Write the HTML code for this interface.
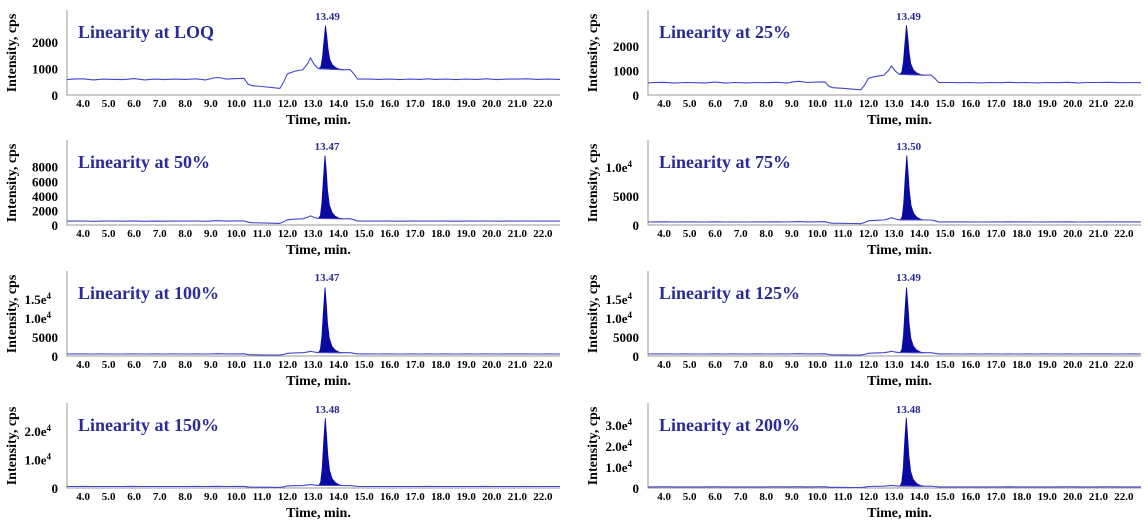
<!DOCTYPE html>
<html><head><meta charset="utf-8"><style>
html,body{margin:0;padding:0;background:#fff}
svg{display:block}
text{font-family:"Liberation Serif",serif;font-weight:bold}
</style></head><body>
<svg id="c" width="1148" height="527" xmlns="http://www.w3.org/2000/svg"></svg>
<script>
const titles=["Linearity at LOQ","Linearity at 25%","Linearity at 50%","Linearity at 75%","Linearity at 100%","Linearity at 125%","Linearity at 150%","Linearity at 200%"];
const peakRT=[13.49,13.49,13.47,13.50,13.47,13.49,13.48,13.48];
const peakHeights=[2620,2850,9500,12000,18000,18000,24500,33500];
const yMaxes=[2640,2860,9600,12070,18400,18400,24560,33300];
const yTicks=[[0,1000,2000],[0,1000,2000],[0,2000,4000,6000,8000],[0,5000,10000],[0,5000,10000,15000],[0,5000,10000,15000],[0,10000,20000],[0,10000,20000,30000]];
const yTickLabels=[["0","1000","2000"],["0","1000","2000"],["0","2000","4000","6000","8000"],["0","5000","1.0e4"],["0","5000","1.0e4","1.5e4"],["0","5000","1.0e4","1.5e4"],["0","1.0e4","2.0e4"],["0","1.0e4","2.0e4","3.0e4"]];
const baseScale=[1,0.85,0.9,0.9,0.9,0.9,0.9,0.9];
const xTicks=[4,5,6,7,8,9,10,11,12,13,14,15,16,17,18,19,20,21,22];
const baseT=[3.37,3.6,4.0,4.4,4.8,5.2,5.6,6.0,6.4,6.8,7.2,7.6,8.0,8.4,8.8,9.1,9.3,9.6,10.0,10.3,10.45,10.6,11.0,11.4,11.7,11.85,12.0,12.3,12.6,12.8,12.9,13.05,13.2,13.3,14.0,14.2,14.45,14.6,14.75,15.2,15.6,16.0,16.4,16.8,17.2,17.5,17.8,18.2,18.6,19.0,19.4,19.8,20.2,20.6,21.0,21.4,21.8,22.2,22.67];
const baseV=[580,600,610,570,600,590,580,620,570,600,580,600,590,610,570,640,660,600,620,630,420,350,320,280,250,480,800,900,950,1200,1400,1150,1000,990,960,950,960,800,600,600,590,600,580,600,590,610,590,600,580,600,590,610,580,600,600,610,590,600,590];
const peakDT=[-0.25,-0.18,-0.12,-0.06,0,0.05,0.1,0.17,0.27,0.4,0.55,0.7];
const peakRel=[0,0.05,0.25,0.65,1,0.75,0.45,0.22,0.1,0.04,0.01,0];
const svg=document.getElementById('c');const NS="http://www.w3.org/2000/svg";
function mk(t,a,p){const e=document.createElementNS(NS,t);for(const k in a)e.setAttribute(k,a[k]);(p||svg).appendChild(e);return e;}
const cols=[67,648],bottoms=[95,225,356,488],W=493,H=70,x0v=3.37,x1v=22.67;
for(let i=0;i<8;i++){
 const L=cols[i%2],B=bottoms[Math.floor(i/2)];
 const g=mk('g',{});
 
 
 const sx=t=>L+(t-x0v)/(x1v-x0v)*W, sy=v=>B-v/yMaxes[i]*H;
 const ax=mk('path',{d:`M${L},${B-85}V${B}H${L+W}`,stroke:'#999',fill:'none','stroke-width':1},g);
 
 xTicks.forEach(t=>{const tx=mk('text',{x:sx(t),y:B+12,'font-size':11,'text-anchor':'middle',fill:'#000'},g);tx.textContent=t.toFixed(1);
  });
 yTicks[i].forEach((v,j)=>{const lab=yTickLabels[i][j];const tx=mk('text',{x:L-9,y:sy(v)+5,'font-size':13,'text-anchor':'end',fill:'#000'},g);
  
  if(lab.includes('e')){const [m,e]=lab.split('e');tx.setAttribute('x',L-16);tx.textContent=m+'e';const ts=mk('tspan',{dy:-5,'font-size':9},tx);ts.textContent=e;}else tx.textContent=lab;});
 const yl=mk('text',{x:0,y:0,'font-size':14,'text-anchor':'middle',fill:'#000',transform:`translate(${L-51},${B-42}) rotate(-90)`},g);yl.textContent='Intensity, cps';
 
 const xl=mk('text',{x:L+W/2+5,y:B+29,'font-size':14,'text-anchor':'middle',fill:'#000'},g);xl.textContent='Time, min.';
 
 const tt=mk('text',{x:L+11,y:B-57,'font-size':18,fill:'#2b2b95'},g);tt.textContent=titles[i];
 
 const bv=t=>{for(let k=0;k<baseT.length-1;k++)if(t<=baseT[k+1]){const f=(t-baseT[k])/(baseT[k+1]-baseT[k]);return (baseV[k]+f*(baseV[k+1]-baseV[k]))*baseScale[i];}return baseV[baseV.length-1]*baseScale[i];};
 const rt=peakRT[i];
 let pk=peakDT.map((d,k)=>[sx(rt+d),sy(bv(rt+d)+peakRel[k]*(peakHeights[i]-bv(rt)))]);
 let fd='M'+pk.map(p=>p[0].toFixed(1)+','+p[1].toFixed(1)).join('L');
 for(let k=peakDT.length-1;k>=0;k--){const t=rt+peakDT[k];fd+=`L${sx(t).toFixed(1)},${sy(bv(t)).toFixed(1)}`;}
 const pf=mk('path',{d:fd+'Z',fill:'#0a0aa0',stroke:'#0a0aa0','stroke-width':0.8},g);
 
 const ln=mk('polyline',{points:baseT.map((t,k)=>sx(t).toFixed(1)+','+sy(baseV[k]*baseScale[i]).toFixed(1)).join(' '),fill:'none',stroke:'#4444cc','stroke-width':1.1},g);
 
 const pl=mk('text',{x:sx(rt)+2,y:B-75,'font-size':11,'text-anchor':'middle',fill:'#2b2b95'},g);pl.textContent=rt.toFixed(2);
 
}
</script>
</body></html>
